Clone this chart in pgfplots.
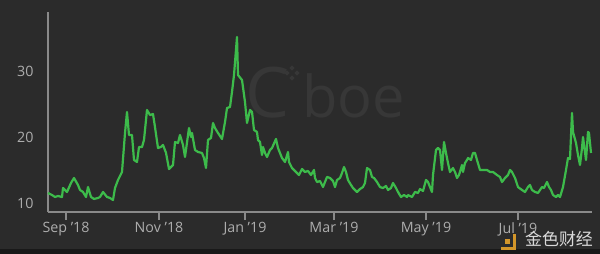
\documentclass[border=0pt]{standalone}
\usepackage{pgfplots}
\pgfplotsset{compat=1.18}
\usepackage{fontspec}
\setmainfont{Open Sans}
\newfontfamily\cjk{Noto Sans CJK SC}
\definecolor{bg}{HTML}{2B2B2B}
\definecolor{wm}{HTML}{373737}
\definecolor{vix}{HTML}{3DBB4B}
\definecolor{axisgray}{HTML}{8A8A8A}
\definecolor{lbl}{HTML}{ADADAD}
\definecolor{logo}{HTML}{D3962A}
\begin{document}
\begin{tikzpicture}
\path[use as bounding box] (0,0) rectangle (600bp,254bp);
\fill[bg] (0,0) rectangle (600bp,254bp);
\fill[black!90] (0,0) rectangle (600bp,5bp);
% Cboe watermark
\node[text=wm, font=\fontsize{70}{70}\selectfont, anchor=base west, inner sep=0pt] at (245bp,136bp) {C};
\node[text=wm, font=\fontsize{58}{58}\selectfont, anchor=base west, inner sep=0pt] at (302bp,136bp) {boe};
\foreach \dx/\dy in {0/5,-5/0,5/0,0/-5}{
  \fill[wm, shift={(292bp,181bp)}, shift={(\dx bp,\dy bp)}] (0,2.6bp) -- (2.6bp,0) -- (0,-2.6bp) -- (-2.6bp,0) -- cycle;
}
\begin{axis}[
  at={(48bp,42bp)}, anchor=south west,
  scale only axis, width=544bp, height=200bp,
  xmin=48, xmax=592, ymin=8.636, ymax=38.94,
  axis x line*=bottom, axis y line*=left,
  axis line style={-, draw=axisgray, line width=1.2bp},
  xtick={66,159,245,334,426,518},
  xticklabels={Sep '18,Nov '18,Jan '19,Mar '19,May '19,Jul '19},
  ytick={10,20,30},
  tick align=outside,
  major tick length=8bp,
  xtick style={draw=axisgray, line width=1.2bp},
  ytick style={draw=none},
  tick label style={text=lbl, font=\fontsize{14.3}{16}\selectfont},
  /pgf/number format/assume math mode=true,
  yticklabel style={xshift=-3bp},
  xticklabel style={yshift=1bp},
  clip=false,
]
\addplot[vix, line width=2.2bp, line join=round] coordinates {
(48,11.52) (52,11.21) (55,10.91) (58,11.06) (62,10.91) (63,12.27) (67,11.67) (71,13.03)
(74,13.79) (78,12.73) (80,11.97) (83,11.67) (86,10.91) (88,12.42) (91,10.91) (94,10.61)
(98,10.76) (100,10.91) (103,11.67) (107,10.91) (110,10.76) (113,10.45) (115,12.27) (118,13.48)
(122,14.70) (125,20.61) (127,23.79) (129,20.30) (132,20.30) (134,16.52) (137,16.21) (139,18.48)
(142,18.48) (144,19.55) (147,24.09) (150,23.33) (153,23.48) (155,21.50) (158,18.33) (161,18.50)
(163,18.79) (166,17.60) (169,15.15) (173,15.76) (175,19.24) (178,19.09) (180,20.30) (183,18.79)
(185,16.97) (189,21.36) (191,20.00) (192,20.61) (195,18.03) (198,17.73) (202,17.58) (204,16.82)
(206,15.30) (208,19.55) (211,19.85) (213,22.12) (215,21.36) (218,20.61) (222,19.70) (225,22.27)
(227,24.39) (230,24.55) (232,26.82) (234,29.39) (237,35.15) (238,29.39) (242,28.64) (245,25.30)
(247,22.12) (250,24.09) (252,23.79) (254,21.06) (257,20.76) (258,19.55) (260,19.24) (262,17.27)
(263,18.48) (265,17.58) (267,16.97) (270,18.03) (272,18.33) (276,19.70) (278,18.33) (282,16.82)
(285,16.21) (288,17.73) (289,16.21) (292,15.30) (297,14.55) (299,14.24) (302,15.15) (305,14.70)
(308,14.85) (311,14.24) (314,15.00) (315,13.79) (317,13.18) (320,13.33) (322,12.73) (323,12.42)
(325,13.18) (327,13.94) (330,13.79) (333,13.33) (335,12.42) (337,13.48) (340,13.79) (342,14.55)
(344,15.45) (346,14.70) (348,13.48) (351,12.73) (353,12.27) (357,11.67) (360,12.12) (363,12.42)
(365,13.03) (367,15.30) (370,15.00) (372,13.94) (374,13.79) (377,13.18) (380,12.42) (383,12.27)
(386,12.58) (388,11.97) (391,12.27) (393,13.03) (396,12.27) (398,11.67) (401,10.91) (404,11.21)
(407,10.91) (408,11.21) (412,10.91) (415,11.67) (418,11.52) (420,12.12) (423,11.82) (426,13.48)
(428,13.18) (432,11.67) (433,14.24) (436,18.03) (438,18.33) (440,18.03) (442,15.00) (444,19.24)
(446,17.58) (448,16.06) (450,14.70) (453,15.30) (455,14.70) (457,13.79) (459,14.24) (462,15.76)
(463,14.70) (465,16.06) (467,16.52) (468,16.82) (471,16.52) (473,17.58) (475,17.58) (477,16.52)
(480,15.00) (483,15.00) (487,15.00) (490,14.70) (493,14.70) (497,14.24) (500,13.94) (502,13.18)
(505,13.79) (508,14.24) (510,15.00) (512,14.70) (515,13.79) (518,12.42) (522,11.97) (525,11.67)
(528,12.42) (530,12.73) (532,11.97) (535,11.67) (538,11.52) (542,12.42) (544,12.27) (547,13.18)
(549,12.42) (551,11.97) (553,11.21) (556,10.91) (558,11.21) (560,10.91) (563,12.42) (566,15.00)
(568,16.82) (570,16.67) (572,23.64) (573,20.76) (576,19.09) (578,17.27) (580,15.76) (582,18.33)
(583,20.00) (586,16.52) (588,20.76) (589,20.61) (591,17.58)
};
\end{axis}
% 金色财经 watermark
\fill[logo] (501bp,4bp) rectangle (516bp,7bp);
\fill[logo] (513bp,4bp) rectangle (516bp,20bp);
\fill[logo] (505bp,10bp) rectangle (510bp,15bp);
\node[text=white!85!black, font=\cjk\fontsize{17}{17}\selectfont, anchor=center, inner sep=0pt] at (559bp,15bp) {金色财经};
\end{tikzpicture}
\end{document}
